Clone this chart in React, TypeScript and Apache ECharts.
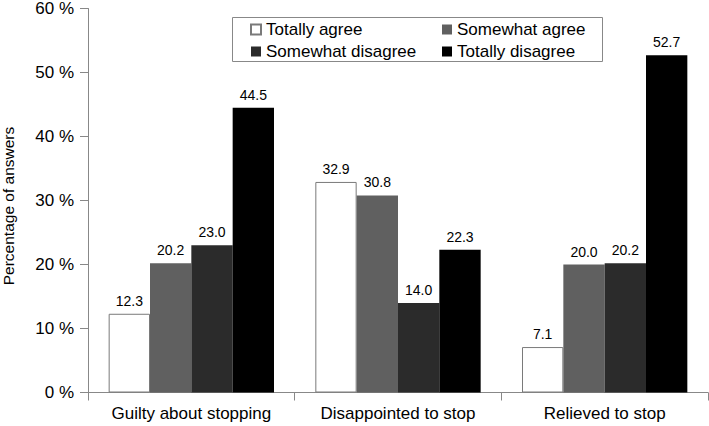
import React, { useEffect, useRef } from "react";
import * as echarts from "echarts";

const categories = ["Guilty about stopping", "Disappointed to stop", "Relieved to stop"];
const seriesNames = ["Totally agree", "Somewhat agree", "Somewhat disagree", "Totally disagree"];
const totallyAgree = [12.3, 32.9, 7.1];
const somewhatAgree = [20.2, 30.8, 20.0];
const somewhatDisagree = [23.0, 14.0, 20.2];
const totallyDisagree = [44.5, 22.3, 52.7];
const yTicks = [0, 10, 20, 30, 40, 50, 60];
const yAxisTitle = "Percentage of answers";

const FONT = "'Liberation Sans', Arial, sans-serif";

export default function App() {
  const ref = useRef<HTMLDivElement>(null);
  useEffect(() => {
    if (!ref.current) return;
    const chart = echarts.init(ref.current, undefined, { renderer: "svg" });
    const values = [totallyAgree, somewhatAgree, somewhatDisagree, totallyDisagree];
    const colors = ["#ffffff", "#606060", "#2b2b2b", "#000000"];
    const series = seriesNames.map((name, i) => ({
      name,
      type: "bar",
      data: values[i],
      barGap: "0%",
      barCategoryGap: "20%",
      itemStyle: {
        color: colors[i],
        borderColor: i === 0 ? "#7a7a7a" : colors[i],
        borderWidth: i === 0 ? 1 : 0,
      },
      label: {
        show: true,
        position: "top",
        distance: 6,
        formatter: (p: any) => p.value.toFixed(1),
        fontFamily: FONT,
        fontSize: 14,
        color: "#000",
      },
    }));
    const legendBase = {
      orient: "vertical",
      icon: "rect",
      itemWidth: 10,
      itemHeight: 10,
      itemGap: 5,
      textStyle: { fontFamily: FONT, fontSize: 17, color: "#000" },
      padding: 0,
    };
    chart.setOption({
      animation: false,
      backgroundColor: "#fff",
      grid: { left: 88, top: 6, width: 620, height: 386.5, containLabel: false },
      legend: [
        { ...legendBase, data: ["Totally agree", "Somewhat disagree"], left: 250, top: 21 },
        { ...legendBase, data: ["Somewhat agree", "Totally disagree"], left: 442, top: 21 },
      ],
      graphic: [
        {
          type: "rect",
          shape: { x: 232.5, y: 17.5, width: 370, height: 44 },
          style: { fill: "none", stroke: "#888", lineWidth: 1 },
          z: 1,
        },
        {
          type: "text",
          x: 8,
          y: 206,
          rotation: Math.PI / 2,
          style: {
            text: yAxisTitle,
            fontFamily: FONT,
            fontSize: 15.5,
            fill: "#000",
            align: "center",
            verticalAlign: "middle",
          },
        },
      ],
      xAxis: {
        type: "category",
        data: categories,
        axisLine: { lineStyle: { color: "#888", width: 1 } },
        axisTick: { show: true, length: 8, lineStyle: { color: "#888" } },
        axisLabel: { fontFamily: FONT, fontSize: 17, color: "#000", margin: 12, interval: 0 },
      },
      yAxis: {
        type: "value",
        min: 0,
        max: 60,
        interval: 10,
        axisLine: { show: true, lineStyle: { color: "#888", width: 1 } },
        axisTick: { show: true, length: 8, lineStyle: { color: "#888" } },
        splitLine: { show: false },
        axisLabel: {
          fontFamily: FONT,
          fontSize: 17,
          color: "#000",
          margin: 14,
          formatter: (v: number) => (yTicks.includes(v) ? `${v} %` : ""),
        },
      },
      series,
    });
    return () => chart.dispose();
  }, []);
  return (
    <div
      ref={ref}
      style={{ position: "fixed", left: 0, top: 0, width: 709, height: 426 }}
    />
  );
}
